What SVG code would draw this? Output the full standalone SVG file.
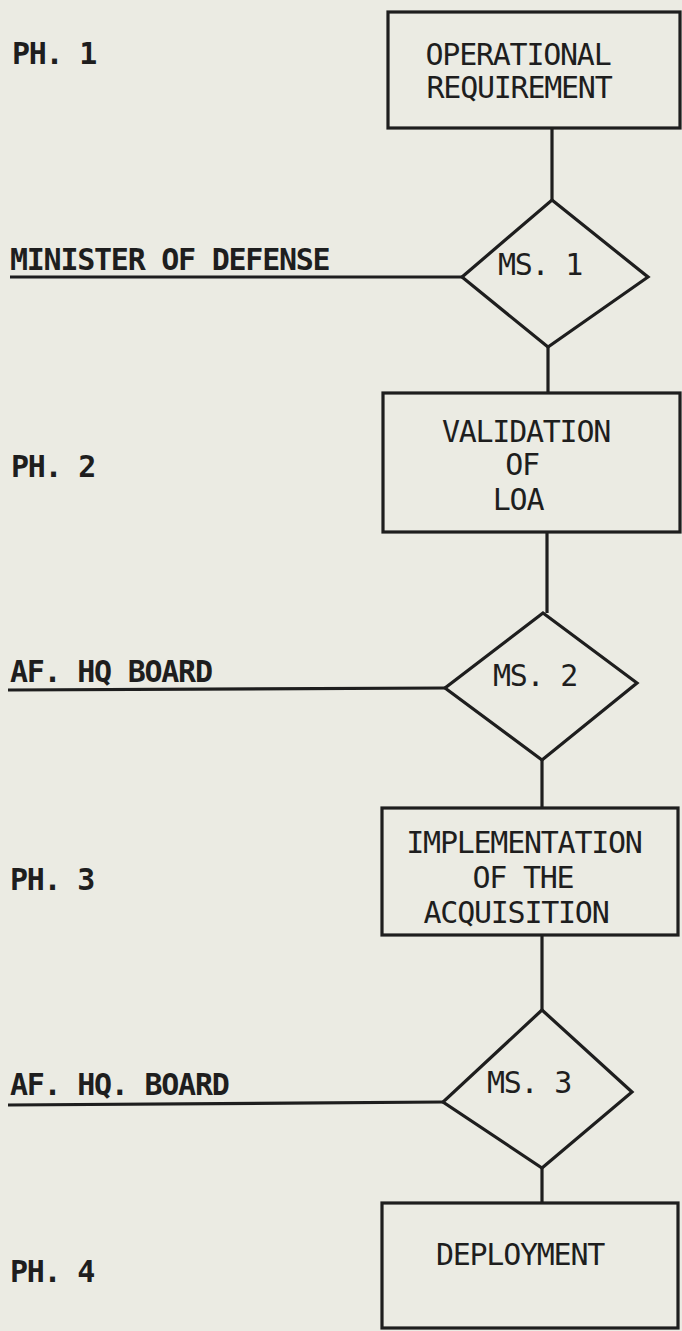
<svg xmlns="http://www.w3.org/2000/svg" width="682" height="1331" viewBox="0 0 682 1331">
<style>
.bg{fill:#ebebe3}
.box{fill:none;stroke:#1e1e1e;stroke-width:3.2;stroke-linejoin:miter}
.ln{fill:none;stroke:#1e1e1e;stroke-width:3.2}
text{font-family:"DejaVu Sans Mono","Liberation Mono",monospace;font-size:30px;letter-spacing:-1.25px;fill:#1e1e1e}
.lbl{font-weight:bold}
.c{text-anchor:middle}
</style>
<rect class="bg" x="0" y="0" width="682" height="1331"/>
<g id="labels">
<text class="lbl" x="12" y="64">PH. 1</text>
<text class="lbl" x="10" y="270">MINISTER OF DEFENSE</text>
<text class="lbl" x="11" y="477">PH. 2</text>
<text class="lbl" x="10" y="682">AF. HQ BOARD</text>
<text class="lbl" x="10" y="890">PH. 3</text>
<text class="lbl" x="10" y="1095">AF. HQ. BOARD</text>
<text class="lbl" x="10" y="1282">PH. 4</text>
</g>
<g id="connectors">
<line class="ln" x1="552" y1="128" x2="552" y2="200"/>
<line class="ln" x1="548" y1="347" x2="548" y2="393"/>
<line class="ln" x1="547" y1="532" x2="547" y2="613"/>
<line class="ln" x1="542" y1="760" x2="542" y2="808"/>
<line class="ln" x1="542" y1="935" x2="542" y2="1010"/>
<line class="ln" x1="542" y1="1168" x2="542" y2="1203"/>
<line class="ln" x1="10" y1="277" x2="462" y2="277"/>
<line class="ln" x1="8" y1="690" x2="445" y2="688"/>
<line class="ln" x1="8" y1="1105" x2="443" y2="1102"/>
</g>
<g id="ph1">
<rect class="box" x="388" y="12" width="292" height="116"/>
<text class="c" x="518" y="65">OPERATIONAL</text>
<text class="c" x="519" y="98">REQUIREMENT</text>
</g>
<g id="ms1">
<polygon class="box" points="552,200 648,277 548,347 462,277"/>
<text x="498" y="275">MS. 1</text>
</g>
<g id="ph2">
<rect class="box" x="383" y="393" width="297" height="139"/>
<text class="c" x="526" y="442">VALIDATION</text>
<text class="c" x="522" y="475">OF</text>
<text class="c" x="518" y="510">LOA</text>
</g>
<g id="ms2">
<polygon class="box" points="543,613 637,683 542,760 445,688"/>
<text x="493" y="686">MS. 2</text>
</g>
<g id="ph3">
<rect class="box" x="382" y="808" width="296" height="127"/>
<text class="c" x="524" y="853">IMPLEMENTATION</text>
<text class="c" x="523" y="888">OF THE</text>
<text class="c" x="516" y="923">ACQUISITION</text>
</g>
<g id="ms3">
<polygon class="box" points="542,1010 632,1092 542,1168 443,1102"/>
<text x="487" y="1093">MS. 3</text>
</g>
<g id="ph4">
<rect class="box" x="382" y="1203" width="296" height="125"/>
<text class="c" x="520" y="1265">DEPLOYMENT</text>
</g>
</svg>
